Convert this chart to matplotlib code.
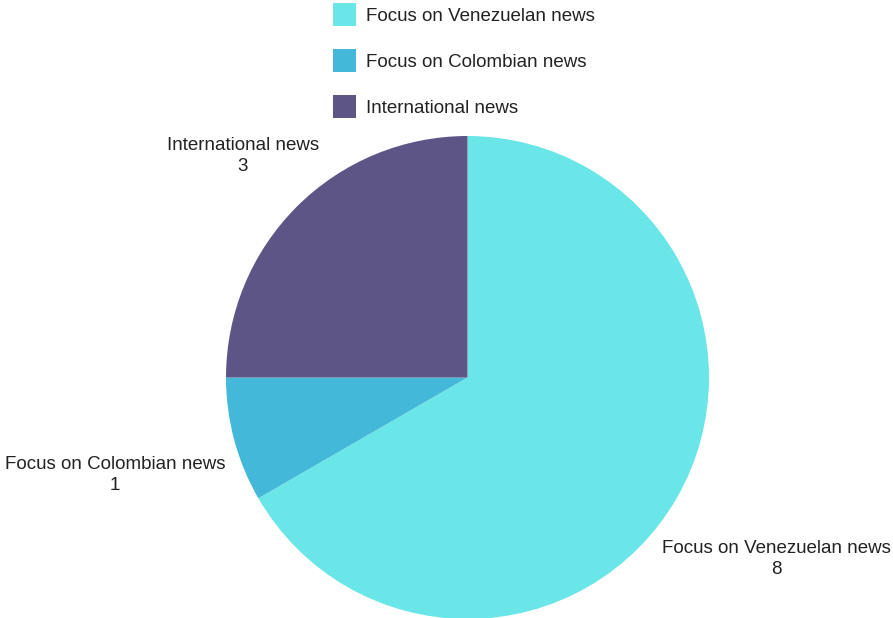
import matplotlib
matplotlib.use("Agg")
import matplotlib.pyplot as plt
from matplotlib.patches import Rectangle

categories = ["Focus on Venezuelan news", "Focus on Colombian news", "International news"]
values = [8, 1, 3]
colors = ["#6ae6e8", "#43b8d8", "#5e5587"]

plt.rcParams['font.family'] = ['Liberation Sans', 'DejaVu Sans']
W, H = 893, 618
fig = plt.figure(figsize=(W / 100, H / 100), dpi=100)
ax = fig.add_axes([0, 0, 1, 1])

cx, cy, r = 467.5, H - 377.5, 241.5
ax.pie(values, colors=colors, startangle=90, counterclock=False,
       center=(cx, cy), radius=r, frame=True,
       wedgeprops=dict(linewidth=0))
ax.set_xlim(0, W)
ax.set_ylim(0, H)
ax.set_aspect('auto')
ax.axis('off')

fs = 13.5
txtc = "#222222"
# slice labels
label_pos = [(776, H - 559), (115, H - 475), (243, H - 156)]
for cat, v, (lx, ly) in zip(categories, values, label_pos):
    ax.text(lx, ly, f"{cat}\n{v}", ha='center', va='center', fontsize=fs,
            color=txtc, linespacing=1.38)

# legend
for i, (cat, c) in enumerate(zip(categories, colors)):
    yc = H - (14 + 46 * i)
    ax.add_patch(Rectangle((333, yc - 11.5), 23, 23, facecolor=c, edgecolor='none'))
    ax.text(366, yc - 2.5, cat, ha='left', va='center', fontsize=fs, color=txtc)

fig.savefig("out.png", dpi=100)
